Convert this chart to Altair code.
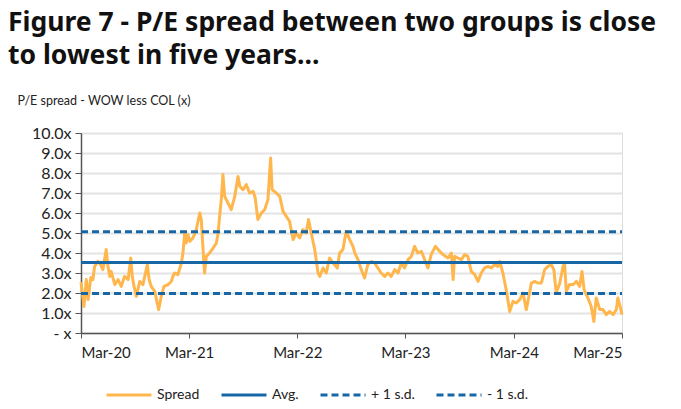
import altair as alt
import pandas as pd

dates = [
    "2020-03-01", "2020-03-11", "2020-03-19", "2020-03-25", "2020-04-03", "2020-04-10", "2020-04-16",
    "2020-04-27", "2020-05-03", "2020-05-14", "2020-05-25", "2020-05-31", "2020-06-06", "2020-06-11",
    "2020-06-23", "2020-07-04", "2020-07-15", "2020-07-26", "2020-08-07", "2020-08-16", "2020-08-21",
    "2020-08-27", "2020-09-04", "2020-09-15", "2020-09-26", "2020-10-11", "2020-10-17", "2020-10-24",
    "2020-11-05", "2020-11-18", "2020-11-27", "2020-12-06", "2020-12-20", "2020-12-31", "2021-01-05",
    "2021-01-11", "2021-01-22", "2021-02-03", "2021-02-08", "2021-02-14", "2021-02-19", "2021-02-25",
    "2021-03-03", "2021-03-14", "2021-03-25", "2021-04-06", "2021-04-11", "2021-04-17", "2021-04-22",
    "2021-04-28", "2021-05-09", "2021-05-21", "2021-06-01", "2021-06-06", "2021-06-12", "2021-06-18",
    "2021-06-23", "2021-06-29", "2021-07-10", "2021-07-21", "2021-08-02", "2021-08-13", "2021-08-19",
    "2021-08-30", "2021-09-10", "2021-09-21", "2021-10-03", "2021-10-10", "2021-10-19", "2021-10-31",
    "2021-11-11", "2021-11-22", "2021-12-01", "2021-12-06", "2021-12-20", "2022-01-01", "2022-01-12",
    "2022-01-23", "2022-02-03", "2022-02-15", "2022-02-26", "2022-03-09", "2022-03-20", "2022-03-31",
    "2022-04-08", "2022-04-17", "2022-04-29", "2022-05-10", "2022-05-16", "2022-05-27", "2022-06-07",
    "2022-06-18", "2022-06-30", "2022-07-14", "2022-07-22", "2022-08-02", "2022-08-13", "2022-08-25",
    "2022-09-05", "2022-09-11", "2022-09-22", "2022-10-03", "2022-10-14", "2022-10-25", "2022-11-06",
    "2022-11-17", "2022-11-28", "2022-12-09", "2022-12-21", "2023-01-01", "2023-01-12", "2023-01-24",
    "2023-02-04", "2023-02-15", "2023-02-26", "2023-03-10", "2023-03-21", "2023-04-01", "2023-04-12",
    "2023-04-24", "2023-05-05", "2023-05-16", "2023-05-27", "2023-06-10", "2023-06-25", "2023-07-06",
    "2023-07-23", "2023-08-03", "2023-08-09", "2023-08-14", "2023-08-25", "2023-09-06", "2023-09-17",
    "2023-09-28", "2023-10-09", "2023-10-21", "2023-11-01", "2023-11-12", "2023-11-23", "2023-12-05",
    "2023-12-16", "2023-12-27", "2024-01-07", "2024-01-13", "2024-01-24", "2024-02-04", "2024-02-16",
    "2024-02-27", "2024-03-09", "2024-03-21", "2024-04-01", "2024-04-12", "2024-04-23", "2024-04-29",
    "2024-05-10", "2024-05-21", "2024-06-02", "2024-06-13", "2024-06-24", "2024-07-05", "2024-07-14",
    "2024-07-22", "2024-08-03", "2024-08-14", "2024-08-19", "2024-08-25", "2024-09-05", "2024-09-17",
    "2024-09-28", "2024-10-09", "2024-10-17", "2024-10-24", "2024-11-06", "2024-11-17", "2024-11-26",
    "2024-12-04", "2024-12-16", "2024-12-27", "2025-01-07", "2025-01-18", "2025-01-30", "2025-02-10",
    "2025-02-15", "2025-02-24", "2025-03-01",
]

spread = [
    2.55, 1.33, 2.67, 1.67, 2.77, 2.67, 3.33,
    3.58, 3.5, 3.17, 4.17, 3.33, 2.83, 3.08,
    2.42, 2.67, 2.33, 2.83, 2.67, 3.75, 2.83,
    2.33, 1.83, 2.58, 2.42, 3.42, 2.67, 2.33,
    2.08, 1.17, 1.83, 2.33, 2.42, 2.58, 2.83,
    3.0, 2.92, 3.5, 4.0, 5.0, 4.5, 4.92,
    4.58, 4.75, 5.17, 6.0, 5.67, 4.17, 3.0,
    3.83, 4.0, 4.25, 4.5, 4.92, 5.83, 6.75,
    7.92, 6.83, 6.5, 6.17, 6.83, 7.83, 7.33,
    7.17, 7.42, 7.0, 7.08, 6.75, 5.67, 6.0,
    6.17, 6.67, 8.75, 7.17, 7.0, 6.83, 6.08,
    5.83, 5.58, 4.67, 5.0, 4.75, 5.17, 5.0,
    5.67, 5.0, 4.17, 3.0, 2.83, 3.25, 3.0,
    3.75, 3.5, 3.25, 4.0, 4.17, 5.08, 4.67,
    4.33, 4.0, 3.67, 3.17, 2.75, 3.42, 3.58,
    3.5, 3.25, 3.0, 2.83, 3.0, 2.83, 3.17,
    3.0, 3.5, 3.25, 3.67, 3.83, 4.33, 4.0,
    4.08, 3.67, 3.25, 3.92, 4.33, 4.08, 3.92,
    3.75, 4.0, 2.67, 3.83, 3.75, 3.67, 3.92,
    3.83, 3.08, 2.92, 2.58, 3.0, 3.25, 3.33,
    3.25, 3.42, 3.33, 3.58, 3.0, 2.17, 1.08,
    1.58, 1.5, 1.67, 2.0, 1.17, 2.0, 2.5,
    2.58, 2.5, 2.5, 3.17, 3.33, 3.42, 3.17,
    2.0, 2.5, 3.33, 3.5, 2.08, 2.42, 2.42,
    2.58, 2.33, 3.08, 2.17, 1.75, 1.33, 0.58,
    1.75, 1.17, 1.17, 0.92, 1.08, 0.92, 1.17,
    1.75, 1.25, 0.92,
]

series_names = ["Spread", "Avg.", "+ 1 s.d.", "- 1 s.d."]
series_colors = ["#FFB74D", "#1767A6", "#1767A6", "#1767A6"]
series_dashes = [[1, 0], [1, 0], [7, 4], [7, 4]]

ref_names = ["Avg.", "+ 1 s.d.", "- 1 s.d."]
ref_values = [3.52, 5.06, 1.98]
ref_span = ["2020-03-01", "2025-03-01"]

tick_years = [2020, 2021, 2022, 2023, 2024, 2025]
y_ticks = [0, 1, 2, 3, 4, 5, 6, 7, 8, 9, 10]

spread_df = pd.DataFrame({"date": dates, "value": spread, "series": "Spread"})
ref_rows = []
for name, val in zip(ref_names, ref_values):
    for d in ref_span:
        ref_rows.append({"date": d, "value": val, "series": name})
ref_df = pd.DataFrame(ref_rows)

FONT = "Lato"

x_enc = alt.X(
    "date:T",
    scale=alt.Scale(
        type="utc",
        domain=[alt.DateTime(year=2020, month=3, date=1, utc=True),
                alt.DateTime(year=2025, month=3, date=1, utc=True)],
    ),
    axis=alt.Axis(
        values=[alt.DateTime(year=y, month=3, date=1, utc=True) for y in tick_years],
        labelExpr="utcFormat(datum.value, '%b-%y')",
        title=None,
        grid=False,
        domainColor="#555555",
        domainWidth=1.5,
        tickColor="#555555",
        tickSize=5,
        labelPadding=7,
        labelFontSize=15,
        labelColor="#222222",
        labelFont=FONT,
    ),
)

y_enc = alt.Y(
    "value:Q",
    scale=alt.Scale(domain=[0, 10], nice=False, zero=True),
    axis=alt.Axis(
        values=y_ticks,
        labelExpr="datum.value == 0 ? '- x' : format(datum.value, '.1f') + 'x'",
        title="P/E spread - WOW less COL (x)",
        titleAngle=0,
        titleAlign="left",
        titleBaseline="alphabetic",
        titleX=-64,
        titleY=-29,
        titleFont=FONT,
        titleFontSize=12.5,
        titleFontWeight="normal",
        titleColor="#222222",
        grid=True,
        gridColor="#E3E3E3",
        gridWidth=2,
        domainColor="#555555",
        domainWidth=1.5,
        tickColor="#555555",
        tickSize=6,
        labelPadding=4,
        labelFontSize=16,
        labelColor="#222222",
        labelFont=FONT,
    ),
)

legend_cfg = dict(
    title=None,
    orient="none",
    legendX=24,
    legendY=238,
    direction="horizontal",
    symbolType="stroke",
    symbolSize=2025,
    symbolStrokeWidth=3,
    labelFontSize=14,
    labelFont=FONT,
    labelColor="#222222",
    labelOffset=4,
    columnPadding=15,
    padding=0,
)

color_enc = alt.Color(
    "series:N",
    scale=alt.Scale(domain=series_names, range=series_colors),
    legend=alt.Legend(**legend_cfg),
)
dash_enc = alt.StrokeDash(
    "series:N",
    scale=alt.Scale(domain=series_names, range=series_dashes),
    legend=alt.Legend(**legend_cfg),
)

spread_layer = alt.Chart(spread_df).mark_line(strokeWidth=3, strokeJoin="round").encode(
    x=x_enc, y=y_enc, color=color_enc, strokeDash=dash_enc, detail="series:N"
)
ref_layer = alt.Chart(ref_df).mark_line(strokeWidth=3).encode(
    x=x_enc, y=y_enc, color=color_enc, strokeDash=dash_enc, detail="series:N"
)

chart = alt.layer(spread_layer, ref_layer).properties(
    width=541,
    height=200,
    padding={"left": 81, "top": 133, "right": 59, "bottom": 76},
    autosize=alt.AutoSizeParams(type="none"),
    title=alt.TitleParams(
        text=["Figure 7 - P/E spread between two groups is close", "to lowest in five years..."],
        anchor="start",
        frame="group",
        dx=-73,
        offset=25,
        font="Noto Sans",
        fontSize=26.5,
        fontWeight="bold",
        color="#111111",
        lineHeight=33,
    ),
).configure_view(stroke=None).configure(background="white")

chart.save("out.html", embed_options={"renderer": "svg", "actions": False})
